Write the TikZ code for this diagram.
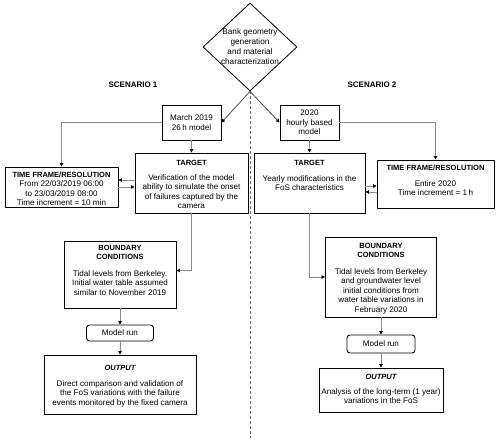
\documentclass[tikz,border=0pt]{standalone}
\usepackage{fontspec}
\setmainfont{Liberation Sans}
\usepackage{tikz}
\usetikzlibrary{arrows.meta,shapes.geometric,positioning}

% text of a box with a heading on top: width, height, top strut, gap, heading, body
\newcommand{\paneltext}[6]{\parbox[t][#2pt][t]{#1pt}{\centering\rule{0pt}{#3pt}{\fontsize{7.5}{9.5}\selectfont\bfseries #5}\\[#4pt]#6}}

\tikzset{
  panel/.style={draw=black, line width=0.9pt, inner xsep=0pt, inner ysep=0pt},
  small/.style={draw=black, line width=0.9pt, align=center, inner sep=1pt},
  runbox/.style={small, rounded corners=3pt},
  link/.style={draw=black!45, line width=0.8pt, -{Triangle[color=black,length=3.5pt,width=3.5pt]}},
  split/.style={draw=black!60, line width=0.9pt, dash pattern=on 3pt off 2pt},
  heading/.style={font=\fontsize{8}{9.5}\selectfont\bfseries},
}

\begin{document}
\begin{tikzpicture}[x=1pt,y=-1pt,font=\fontsize{8.1}{9.5}\selectfont]
\fill[color=white] (0,0) rectangle (500,442);
\useasboundingbox (0,0) rectangle (500,442);
% Drawing boxes
\node[diamond, draw=black, line width=0.8pt, minimum width=94pt, minimum height=88pt, inner sep=-10pt, align=center, font=\fontsize{8.2}{10}\selectfont] (bank) at (250,47) {Bank geometry\\generation\\and material\\characterization};
\node[heading] (scenA) at (133,85) {SCENARIO 1};
\node[heading] (scenB) at (372,85) {SCENARIO 2};
% Scenario 1
\node[small, minimum width=59pt, minimum height=35pt] (marchA) at (191.5,122.5) {March 2019\\26\,h model};
\node[panel] (timeA) at (61.5,187) {\paneltext{113}{40}{10}{0}{TIME FRAME/RESOLUTION}{From 22/03/2019 06:00\\to 23/03/2019 08:00\\Time increment = 10 min}};
\node[panel] (targetA) at (191.5,183) {\paneltext{113}{60}{12.5}{5}{TARGET}{Verification of the model\\ability to simulate the onset\\of failures captured by the\\camera}};
\node[panel] (boundA) at (120,274.5) {\paneltext{112}{67}{9}{7}{BOUNDARY\\CONDITIONS}{Tidal levels from Berkeley.\\Initial water table assumed\\similar to November 2019}};
\node[runbox, minimum width=67pt, minimum height=16pt] (runA) at (120,333) {Model run};
\node[panel] (outA) at (120,384.5) {\paneltext{152}{59}{15}{6.5}{\itshape OUTPUT}{Direct comparison and validation of\\the FoS variations with the failure\\events monitored by the fixed camera}};
% Scenario 2
\node[small, minimum width=59pt, minimum height=35pt] (yearB) at (309.5,122.5) {2020\\hourly based\\model};
\node[panel] (targetB) at (309.5,183) {\paneltext{111}{60}{12.5}{6}{TARGET}{Yearly modifications in the\\FoS characteristics}};
\node[panel] (timeB) at (435.5,184) {\paneltext{117}{48}{10}{6.5}{TIME FRAME/RESOLUTION}{Entire 2020\\Time increment = 1\,h}};
\node[panel] (boundB) at (381,277) {\paneltext{111}{80}{11}{7}{BOUNDARY\\CONDITIONS}{Tidal levels from Berkeley\\and groundwater level\\initial conditions from\\water table variations in\\February 2020}};
\node[runbox, minimum width=68pt, minimum height=18pt] (runB) at (381,344) {Model run};
\node[panel] (outB) at (381,390) {\paneltext{124}{44}{11}{5.5}{\itshape OUTPUT}{Analysis of the long-term (1 year)\\variations in the FoS}};
\coordinate (splitEnd) at (250,438);
% Done with boxes; drawing connectors
\draw[split] (bank.south) -- (splitEnd);
\draw[link, draw=black!70] (bank.south) -- (marchA.east);
\draw[link, draw=black!70] (bank.south) -- (yearB.west);
% Scenario 1
\draw[link] (marchA.west) -| (timeA.north);
\draw[link] (marchA.south) -- (targetA.north);
\draw[link] ([yshift=3pt]targetA.west) -- ([yshift=3pt]targetA.west -| timeA.east);
\draw[link] ([yshift=-4pt]targetA.west -| timeA.east) -- ([yshift=-4pt]targetA.west);
\draw[link] (targetA.south) |- ([yshift=4pt]boundA.east);
\draw[link] (boundA.south) -- (runA.north);
\draw[link] (runA.south) -- (outA.north);
% Scenario 2
\draw[link] (yearB.east) -| (timeB.north);
\draw[link] (yearB.south) -- (targetB.north);
\draw[link] ([yshift=-3pt]targetB.east) -- ([yshift=-3pt]targetB.east -| timeB.west);
\draw[link] ([yshift=-9pt]targetB.east -| timeB.west) -- ([yshift=-9pt]targetB.east);
\draw[link] (targetB.south) |- (boundB.west);
\draw[link] (boundB.south) -- (runB.north);
\draw[link] (runB.south) -- (outB.north);
% Done with connectors
\end{tikzpicture}
\end{document}
